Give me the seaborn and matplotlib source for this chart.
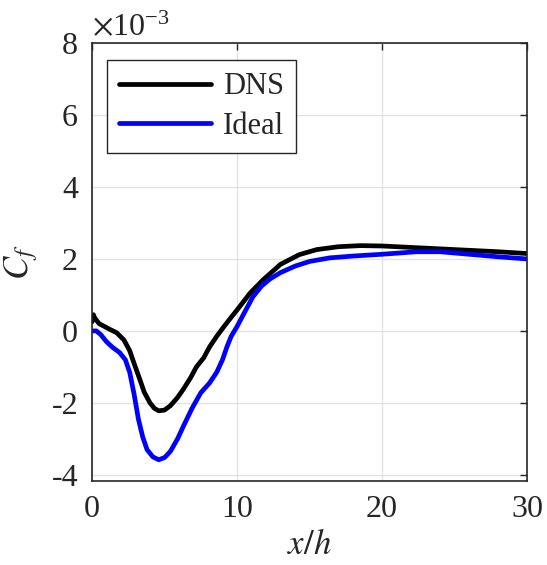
import numpy as np
import pandas as pd
import matplotlib
matplotlib.use("Agg")
import matplotlib.pyplot as plt
import seaborn as sns

# values (C_f in units of 1e-3)
x_dns = [0.0, 0.1, 0.2, 0.5, 1.2, 1.7, 2.2, 2.6, 2.9, 3.3, 3.6, 4.0, 4.3, 4.6, 5.0, 5.4,
         5.9, 6.3, 6.8, 7.2, 7.7, 8.1, 8.6, 9.1, 9.6, 10.0, 10.9, 11.8, 13.0, 14.3, 15.5,
         17.0, 18.5, 20.0, 22.0, 24.0, 26.0, 28.0, 30.0]
cf_dns = [0.25, 0.45, 0.35, 0.2, 0.05, -0.05, -0.25, -0.55, -0.9, -1.35, -1.7, -2.0, -2.15,
          -2.22, -2.2, -2.08, -1.85, -1.62, -1.3, -1.0, -0.75, -0.45, -0.15, 0.12, 0.38,
          0.58, 1.05, 1.42, 1.85, 2.12, 2.26, 2.34, 2.37, 2.36, 2.32, 2.28, 2.24, 2.2, 2.15]
x_ideal = [0.0, 0.3, 0.6, 1.0, 1.4, 1.9, 2.3, 2.6, 2.9, 3.2, 3.5, 3.8, 4.2, 4.6, 5.0,
           5.4, 5.9, 6.3, 6.9, 7.5, 8.1, 8.6, 9.0, 9.3, 9.6, 10.0, 10.5, 11.1, 11.7, 12.3,
           13.0, 14.0, 15.0, 16.4, 18.0, 20.0, 22.4, 24.0, 26.0, 28.0, 30.0]
cf_ideal = [0.0, 0.0, -0.1, -0.3, -0.45, -0.6, -0.8, -1.15, -1.75, -2.45, -2.95, -3.3,
            -3.5, -3.58, -3.52, -3.35, -3.0, -2.65, -2.15, -1.72, -1.45, -1.15, -0.8,
            -0.45, -0.15, 0.12, 0.5, 0.95, 1.25, 1.45, 1.62, 1.8, 1.93, 2.03, 2.08, 2.13,
            2.2, 2.2, 2.13, 2.06, 2.0]

sns.set_style("whitegrid")
plt.rcParams["font.family"] = ["Liberation Serif", "DejaVu Serif"]
plt.rcParams["mathtext.fontset"] = "stix"

fig = plt.figure(figsize=(5.47, 5.65), dpi=100)
ax = fig.add_axes([92 / 547, 84 / 565, 435 / 547, 438 / 565])

df_dns = pd.DataFrame({"x": x_dns, "cf": cf_dns})
df_ideal = pd.DataFrame({"x": x_ideal, "cf": cf_ideal})
sns.lineplot(data=df_dns, x="x", y="cf", ax=ax, color="black", lw=3.4,
             sort=False, estimator=None, label="DNS")
sns.lineplot(data=df_ideal, x="x", y="cf", ax=ax, color="#0000ff", lw=3.4,
             sort=False, estimator=None, label="Ideal")

ax.set_xlim(0, 30)
ax.set_ylim(-4.17, 8)
ax.set_xticks([0, 10, 20, 30])
ax.set_yticks([-4, -2, 0, 2, 4, 6, 8])
ax.set_yticklabels(["-4", "-2", "0", "2", "4", "6", "8"])
ax.grid(True, color="#e3e3e3", lw=1)
for s in ax.spines.values():
    s.set_visible(True)
    s.set_color("#262626")
    s.set_linewidth(1.2)
ax.tick_params(direction="in", length=5, width=1, colors="#262626", labelsize=23,
               top=True, right=True, pad=10, labelcolor="#262626")
ax.set_xlabel("$x/h$", fontsize=25, color="#262626", labelpad=4)
ax.set_ylabel("$C_f$", fontsize=25, color="#262626", labelpad=8)
ax.text(0.0, 1.0, r"$\times$10$^{\mathregular{-3}}$", transform=ax.transAxes,
        fontsize=23, color="#262626", ha="left", va="bottom")

leg = ax.legend(loc="upper left", bbox_to_anchor=(0.02, 0.975), fontsize=22,
                handlelength=3.0, frameon=True, fancybox=False, borderpad=0.4,
                labelspacing=0.35, handletextpad=0.4, borderaxespad=0.2)
leg.get_frame().set_edgecolor("#262626")
leg.get_frame().set_linewidth(1.0)
leg.get_frame().set_alpha(1)

fig.savefig("out.png", dpi=100)
